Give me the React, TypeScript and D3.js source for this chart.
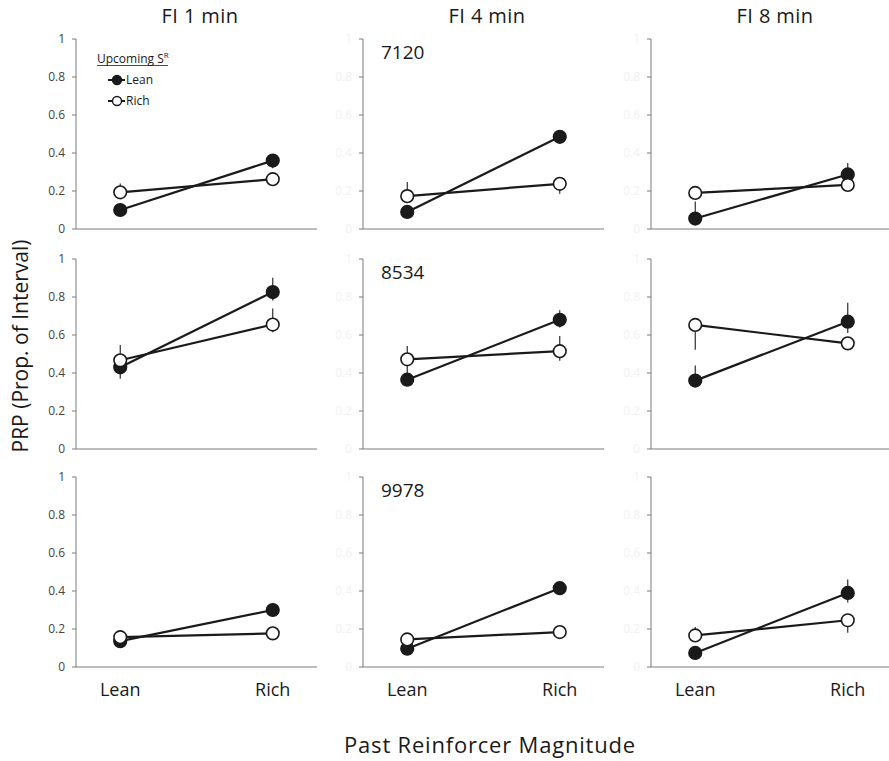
import React from 'react';
import * as d3 from 'd3';

// panel layout: rows = subjects, columns = FI schedules
const schedules = ['FI 1 min', 'FI 4 min', 'FI 8 min'];
const subjects = ['7120', '8534', '9978'];
const pastMagnitude = ['Lean', 'Rich'];
const yTicks = [0, 0.2, 0.4, 0.6, 0.8, 1];
const yTickLabels = ['0', '0.2', '0.4', '0.6', '0.8', '1'];

// mean PRP, [row][col][past Lean, past Rich]
const upcomingLean = [
  [[0.10, 0.36], [0.09, 0.485], [0.055, 0.287]],
  [[0.43, 0.826], [0.365, 0.68], [0.36, 0.67]],
  [[0.136, 0.30], [0.096, 0.415], [0.074, 0.39]],
];
const upcomingRich = [
  [[0.193, 0.262], [0.173, 0.238], [0.19, 0.232]],
  [[0.467, 0.655], [0.472, 0.515], [0.653, 0.556]],
  [[0.157, 0.177], [0.145, 0.184], [0.166, 0.246]],
];
// error bars [below, above]
const upcomingLeanErr = [
  [[[0, 0], [0.04, 0]], [[0, 0], [0, 0]], [[0, 0.09], [0, 0.06]]],
  [[[0.06, 0], [0.045, 0.075]], [[0, 0.075], [0.04, 0.05]], [[0, 0.08], [0.06, 0.1]]],
  [[[0, 0], [0, 0]], [[0, 0], [0, 0]], [[0, 0], [0.05, 0.07]]],
];
const upcomingRichErr = [
  [[[0, 0.047], [0, 0]], [[0, 0.075], [0.053, 0]], [[0, 0], [0, 0]]],
  [[[0, 0.08], [0.04, 0.085]], [[0, 0.07], [0.05, 0.08]], [[0.13, 0], [0, 0]]],
  [[[0, 0], [0, 0]], [[0, 0], [0, 0]], [[0, 0.045], [0.066, 0]]],
];

const W = 889;
const H = 761;
const colX = [76, 363, 651];
const rowY = [39, 259, 477];
const panelW = 241;
const panelH = 190;
const font = '"Open Sans", "Noto Sans", sans-serif';
const ink = '#1a1a1a';

const x = d3.scalePoint<string>().domain(pastMagnitude).range([0, panelW]).padding(0.29);
const y = d3.scaleLinear().domain([0, 1]).range([panelH, 0]);

const line = d3.line<[string, number]>()
  .x(d => x(d[0]) as number)
  .y(d => y(d[1]));

const Panel: React.FC<{ r: number; c: number }> = ({ r, c }) => {
  const series = [
    { vals: upcomingLean[r][c], err: upcomingLeanErr[r][c], filled: true },
    { vals: upcomingRich[r][c], err: upcomingRichErr[r][c], filled: false },
  ];
  const tickColor = c === 0 ? '#444' : '#f1f1f1';
  return (
    <g transform={`translate(${colX[c]},${rowY[r]})`}>
      {/* axes */}
      <line x1={0} x2={0} y1={y(1)} y2={y(0)} stroke="#7a7a7a" strokeWidth={1} />
      <line x1={0} x2={panelW} y1={y(0)} y2={y(0)} stroke="#7a7a7a" strokeWidth={1} />
      {yTicks.map((t, i) => (
        <g key={t} transform={`translate(0,${y(t)})`}>
          <line x1={-4} x2={0} stroke="#7a7a7a" strokeWidth={1} />
          <text x={-11} dy="0.35em" textAnchor="end" fontSize={12} fill={tickColor} fontFamily={font}>
            {yTickLabels[i]}
          </text>
        </g>
      ))}
      {r === 2 && pastMagnitude.map(m => (
        <text key={m} x={x(m)} y={panelH + 29} textAnchor="middle" fontSize={18} fill={ink} fontFamily={font}>
          {m}
        </text>
      ))}
      {c === 1 && (
        <text x={18} y={20} fontSize={19} fill={ink} fontFamily={font}>{subjects[r]}</text>
      )}
      {/* error bars */}
      {series.map((s, si) => s.vals.map((v, i) => (
        <line key={`e${si}${i}`} x1={x(pastMagnitude[i])} x2={x(pastMagnitude[i])}
          y1={y(v - s.err[i][0])} y2={y(v + s.err[i][1])} stroke={ink} strokeWidth={1.1} />
      )))}
      {series.map((s, si) => (
        <path key={`l${si}`} d={line(pastMagnitude.map((m, i) => [m, s.vals[i]]) as [string, number][]) || ''}
          fill="none" stroke={ink} strokeWidth={2.2} />
      ))}
      {series.map((s, si) => s.vals.map((v, i) => (
        <circle key={`p${si}${i}`} cx={x(pastMagnitude[i])} cy={y(v)} r={6.3}
          fill={s.filled ? ink : '#fff'} stroke={ink} strokeWidth={1.6} />
      )))}
    </g>
  );
};

const Legend: React.FC = () => {
  const lx = colX[0];
  const ly = rowY[0];
  return (
    <g transform={`translate(${lx},${ly})`} fontFamily={font} fill={ink}>
      <text x={21} y={24} fontSize={12}>
        Upcoming S<tspan dy={-5} fontSize={8}>R</tspan>
      </text>
      <line x1={21} x2={92} y1={26.5} y2={26.5} stroke={ink} strokeWidth={0.8} />
      {[{ label: 'Lean', filled: true, dy: 41 }, { label: 'Rich', filled: false, dy: 62 }].map(d => (
        <g key={d.label} transform={`translate(0,${d.dy})`}>
          <line x1={32} x2={49} stroke={ink} strokeWidth={2} />
          <circle cx={41} cy={0} r={4.5} fill={d.filled ? ink : '#fff'} stroke={ink} strokeWidth={1.4} />
          <text x={50} dy="0.35em" fontSize={12}>{d.label}</text>
        </g>
      ))}
    </g>
  );
};

export default function App() {
  return (
    <svg width={W} height={H} style={{ position: 'absolute', left: 0, top: 0, background: '#fff' }}>
      <rect width={W} height={H} fill="#fff" />
      {schedules.map((s, c) => (
        <text key={s} x={colX[c] + 124} y={23} textAnchor="middle" fontSize={20} letterSpacing={0.4}
          fill={ink} fontFamily={font}>
          {s}
        </text>
      ))}
      {subjects.map((_, r) => schedules.map((__, c) => <Panel key={`${r}-${c}`} r={r} c={c} />))}
      <Legend />
      <text transform={`translate(28,${346}) rotate(-90)`} textAnchor="middle" fontSize={21} fill={ink} fontFamily={font}>
        PRP (Prop. of Interval)
      </text>
      <text x={490} y={753} textAnchor="middle" fontSize={22} letterSpacing={0.8} fill={ink} fontFamily={font}>
        Past Reinforcer Magnitude
      </text>
    </svg>
  );
}
